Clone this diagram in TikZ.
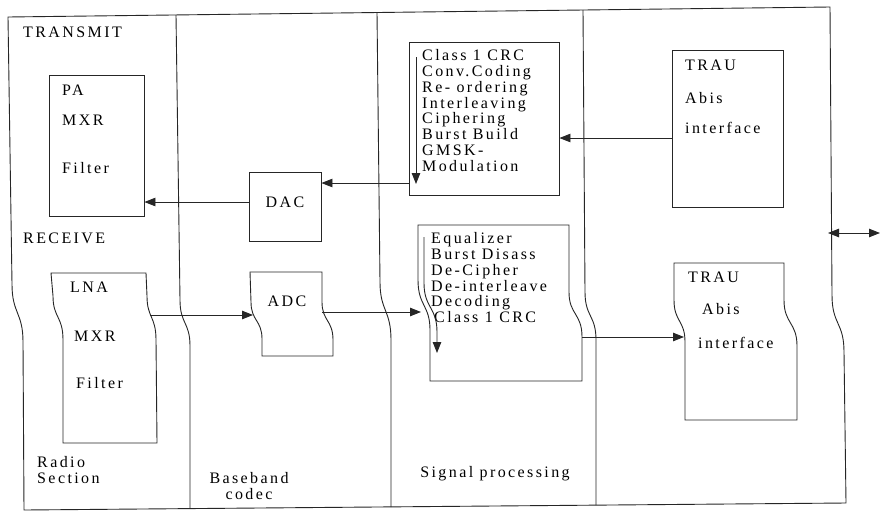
\documentclass[tikz,border=0pt]{standalone}
\usepackage{fontspec}
\newfontfamily\scanfont[LetterSpace=15]{Liberation Serif}
\usetikzlibrary{arrows.meta}
\begin{document}
\begin{tikzpicture}[x=1pt,y=-1pt,
  ln/.style={line width=0.9pt, draw=black!85},
  tip/.tip={Triangle[length=11pt,width=8.5pt]},
  arr/.style={ln, -tip},
  dblarr/.style={ln, tip-tip},
  boxnode/.style={ln, inner sep=0pt},
  txt/.style={font=\scanfont\fontsize{16}{15.9}\selectfont, inner sep=0pt, anchor=west, text=black},
  blk/.style={txt, anchor=north west, align=left},
  ]
\useasboundingbox (0,0) rectangle (880,512);
\fill[white] (0,0) rectangle (880,512);

% outer frame and column dividers
\draw[ln] (8,17) -- (830,7) -- (832,295) .. controls (832,325) and (844,322) .. (844,352)
  -- (846,503) -- (24,510) -- (23,342) .. controls (23,312) and (12,314) .. (12,284) -- cycle;
\draw[ln] (176,15) -- (180,300) .. controls (180,324) and (190,322) .. (190,346) -- (190,508.6);
\draw[ln] (377,12.5) -- (380,282) .. controls (380,311) and (391,310) .. (391,340) -- (391,507);
\draw[ln] (583,10) -- (585,292) .. controls (585,317) and (596,315) .. (596,340) -- (596,505);

% section labels
\node[txt] (transmit) at (23,32) {TRANSMIT};
\node[txt] (receive) at (23,238) {RECEIVE};
\node[blk] (radio) at (37,456) {Radio\\Section};
\node[txt, align=center, anchor=center] (baseband) at (249,486) {Baseband\\codec};
\node[txt, anchor=center] (sigproc) at (495,474) {Signal processing};

% transmit radio box
\node[boxnode, minimum width=95pt, minimum height=141pt] (pa) at (96.5,145.5) {};
\node[txt] (paT) at (62,90) {PA};
\node[txt] (mxrT) at (62,120) {MXR};
\node[txt] (filT) at (62,168) {Filter};

% DAC
\node[boxnode, minimum width=72pt, minimum height=69pt] (dac) at (285,206.5) {};
\node[txt, anchor=center] (dacT) at (285,202) {DAC};

% transmit processing box
\node[boxnode, minimum width=150pt, minimum height=153pt] (tx) at (484,118.5) {};
\node[blk] (txT) at (422,49) {Class 1 CRC\\Conv.Coding\\Re- ordering\\Interleaving\\Ciphering\\Burst Build\\GMSK-\\Modulation};
\coordinate (txa) at (416,57);
\coordinate (txb) at (416,184);
\draw[arr] (txa) -- (txb);

% TRAU 1
\node[boxnode, minimum width=111pt, minimum height=157pt] (trau1) at (727.5,128.5) {};
\node[txt] (trau1a) at (685,65) {TRAU};
\node[txt] (trau1b) at (685,98) {Abis};
\node[txt] (trau1c) at (685,128) {interface};

\draw[arr] (trau1.west |- 0,138) -- (tx.east |- 0,138);
\draw[arr] (tx.west |- 0,183) -- (dac.east |- 0,183);
\draw[arr] (dac.west |- 0,202) -- (pa.east |- 0,202);

% LNA box
\draw[ln] (51,273) -- (146,273) -- (147,296) .. controls (147,318) and (156,316) .. (156,340)
  -- (157,443) -- (63,443) -- (63,340) .. controls (63,316) and (53,318) .. (53,296) -- cycle;
\node[txt] (lnaT) at (70,287) {LNA};
\node[txt] (mxr2T) at (74,336) {MXR};
\node[txt] (fil2T) at (76,383) {Filter};
\coordinate (lnaout) at (150,315);

% ADC
\draw[ln] (250,272) -- (322,272) -- (322,302) .. controls (322,321) and (333,320) .. (333,340)
  -- (333,356) -- (262,356) -- (262,339) .. controls (262,320) and (251,321) .. (251,302) -- cycle;
\node[txt, anchor=center] (adcT) at (287,301) {ADC};
\coordinate (adcin) at (253,315);
\coordinate (adcout) at (322,312);
\draw[arr] (lnaout) -- (adcin);

% receive processing box
\draw[ln] (418,225) -- (569,225) -- (569,292) .. controls (569,315) and (582,313) .. (582,337)
  -- (582,381) -- (430,381) -- (430,330) .. controls (430,305) and (418,306) .. (418,280) -- cycle;
\node[blk] (rxT) at (431,232) {Equalizer\\Burst Disass\\De-Cipher\\De-interleave\\Decoding\\\hspace*{3pt}Class 1 CRC};
\coordinate (rxin) at (421,312);
\coordinate (rxout) at (582,337);
\draw[arr] (adcout) -- (rxin);
\draw[arr] (424,237) -- (424,283) .. controls (424,308) and (437,307) .. (437,332) -- (437,353);

% TRAU 2
\draw[ln] (674,263) -- (784,263) -- (784,300) .. controls (784,324) and (797,322) .. (797,346)
  -- (797,420) -- (685,420) -- (685,342) .. controls (685,320) and (674,322) .. (674,300) -- cycle;
\node[txt] (trau2a) at (688,277) {TRAU};
\node[txt] (trau2b) at (702,309) {Abis};
\node[txt] (trau2c) at (698,343) {interface};
\coordinate (trau2in) at (684,337);
\draw[arr] (rxout) -- (trau2in);

% external link
\coordinate (frameR) at (828,233);
\coordinate (extR) at (880,233);
\draw[dblarr] (frameR) -- (extR);
\end{tikzpicture}
\end{document}
